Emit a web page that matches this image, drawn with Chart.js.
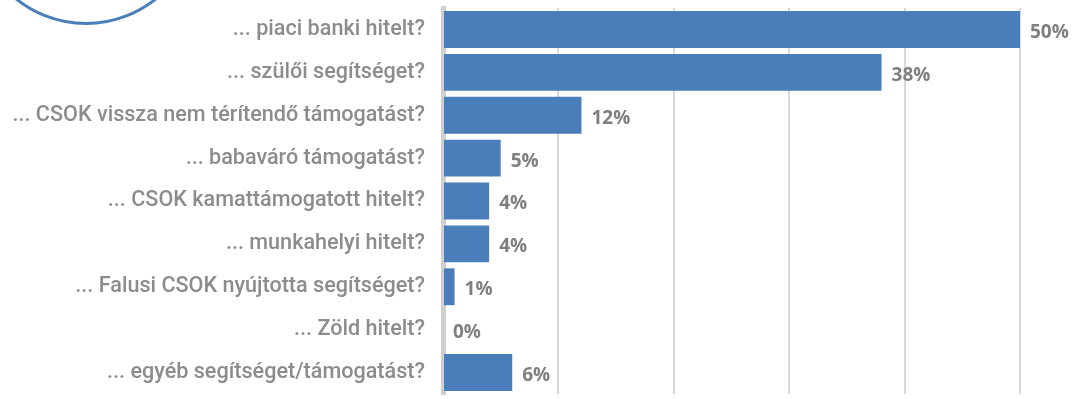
<!DOCTYPE html>
<html>
<head>
<meta charset="utf-8">
<script src="https://cdn.jsdelivr.net/npm/chart.js@4"></script>
<style>
  html, body { margin: 0; padding: 0; background: #fff; overflow: hidden; }
  #wrap { position: relative; width: 1072px; height: 399px; }
  #ring { position: absolute; left: -27px; top: -201px; width: 220px; height: 220px;
          border: 3px solid #4a7ebb; border-radius: 50%; }
  canvas { display: block; }
</style>
</head>
<body>
<div id="wrap">
  <div id="ring"></div>
  <canvas id="answersChart" width="1072" height="399"></canvas>
</div>
<script>
document.addEventListener("DOMContentLoaded", function() {
    // Data
    const categories = [
        '... piaci banki hitelt?',
        '... szülői segítséget?',
        '... CSOK vissza nem térítendő támogatást?',
        '... babaváró támogatást?',
        '... CSOK kamattámogatott hitelt?',
        '... munkahelyi hitelt?',
        '... Falusi CSOK nyújtotta segítséget?',
        '... Zöld hitelt?',
        '... egyéb segítséget/támogatást?'
    ];
    const shares = [50, 38, 12, 5, 4, 4, 1, 0, 6];
    const xTicks = [0, 10, 20, 30, 40, 50];

    // simple value labels at the end of each bar
    const valueLabels = {
        id: 'valueLabels',
        afterDatasetsDraw(chart) {
            const ctx = chart.ctx;
            const meta = chart.getDatasetMeta(0);
            ctx.save();
            ctx.font = 'bold 19px "Open Sans"';
            ctx.fillStyle = '#7f7f7f';
            ctx.textAlign = 'left';
            ctx.textBaseline = 'middle';
            meta.data.forEach(function(bar, i) {
                ctx.fillText(shares[i] + '%', bar.x + 10, bar.y + 3);
            });
            ctx.restore();
        }
    };

    const chartCtx = document.getElementById('answersChart').getContext('2d');
    new Chart(chartCtx, {
        type: 'bar',
        data: {
            labels: categories,
            datasets: [{
                data: shares,
                backgroundColor: '#4a7ebb',
                barPercentage: 0.86,
                categoryPercentage: 1
            }]
        },
        options: {
            indexAxis: 'y',
            responsive: false,
            animation: false,
            layout: { padding: { top: 8, right: 52, bottom: 5, left: 0 } },
            plugins: { legend: { display: false }, tooltip: { enabled: false } },
            scales: {
                x: {
                    min: xTicks[0],
                    max: xTicks[xTicks.length - 1],
                    afterBuildTicks: function(scale) {
                        scale.ticks = xTicks.map(v => ({ value: v }));
                    },
                    afterFit: function(scale) {
                        scale.height = 0;
                        scale.paddingLeft = 0;
                        scale.paddingRight = 0;
                    },
                    ticks: { display: false },
                    grid: { color: '#d9d9d9', lineWidth: 2, drawTicks: false },
                    border: { display: false }
                },
                y: {
                    afterFit: function(scale) {
                        scale.width = 443;
                        scale.paddingTop = 0;
                        scale.paddingBottom = 0;
                    },
                    ticks: {
                        color: '#8c8c8c',
                        padding: 18,
                        font: { family: 'Roboto', size: 21.6, weight: 500 }
                    },
                    grid: { display: false, drawTicks: false },
                    border: { display: true, color: '#d0d0d0', width: 5 }
                }
            }
        },
        plugins: [valueLabels]
    });
});
</script>
</body>
</html>
